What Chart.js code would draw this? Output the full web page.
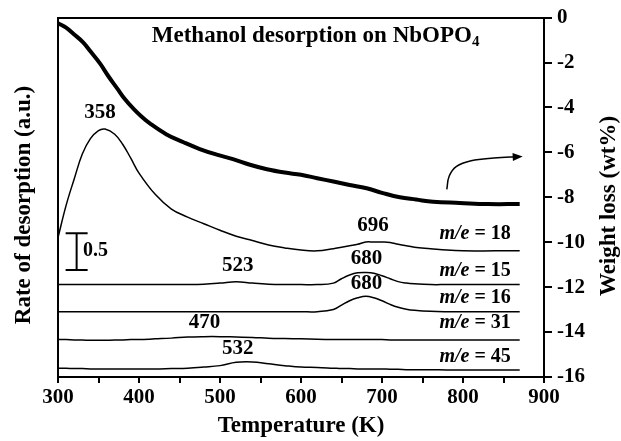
<!DOCTYPE html>
<html>
<head>
<meta charset="utf-8">
<title>Methanol desorption on NbOPO4</title>
<script src="https://cdn.jsdelivr.net/npm/chart.js@4.4.1/dist/chart.umd.min.js"></script>
<style>
  body { margin: 0; background: #fff; }
  #wrap { width: 621px; height: 441px; }
</style>
</head>
<body>
<div id="wrap"><canvas id="mycanvas" width="621" height="441"></canvas></div>
<script>
// weight loss (TGA), right axis
var tgaTemps = [300, 310, 320, 331, 340, 352, 362, 373, 383, 393, 403, 413, 434, 455, 475, 496, 516, 537, 558, 580, 600, 620, 640, 660, 681, 700, 722, 742, 763, 796, 830, 870];
var weightLoss = [-0.25, -0.45, -0.75, -1.1, -1.5, -2.05, -2.6, -3.15, -3.65, -4.05, -4.4, -4.7, -5.2, -5.55, -5.85, -6.1, -6.3, -6.55, -6.75, -6.9, -7.0, -7.15, -7.3, -7.45, -7.6, -7.8, -8.0, -8.1, -8.2, -8.25, -8.3, -8.3];

// mass spec traces (a.u.), left axis, each one shifted up by its offset
var msTemps = [300, 310, 320, 330, 340, 350, 358, 370, 380, 390, 400, 420, 440, 460, 480, 500, 520, 540, 560, 580, 600, 620, 640, 650, 660, 670, 680, 690, 700, 710, 720, 730, 740, 760, 780, 800, 840, 870];
var me18 = [0.18, 0.62, 0.98, 1.32, 1.53, 1.64, 1.66, 1.59, 1.45, 1.26, 1.06, 0.77, 0.57, 0.46, 0.37, 0.28, 0.20, 0.14, 0.08, 0.04, 0.01, 0.00, 0.03, 0.05, 0.07, 0.09, 0.12, 0.12, 0.12, 0.115, 0.09, 0.07, 0.05, 0.03, 0.01, 0, 0, 0];
var me15 = [0, 0, 0, 0, 0, 0, 0, 0, 0, 0, 0, 0, 0, 0, 0.005, 0.02, 0.04, 0.02, 0.005, 0, 0, 0, 0.02, 0.08, 0.13, 0.16, 0.165, 0.155, 0.12, 0.08, 0.04, 0.02, 0.01, 0, 0, 0, 0, 0];
var me16 = [0, 0, 0, 0, 0, 0, 0, 0, 0, 0, 0, 0, 0, 0, 0, 0, 0, 0, 0, 0, 0, 0, 0.03, 0.09, 0.15, 0.19, 0.21, 0.19, 0.15, 0.10, 0.06, 0.035, 0.02, 0.005, 0, 0, 0, 0];
var me31 = [0.01, 0.01, 0.005, 0.005, 0, 0, 0, 0.005, 0.005, 0.01, 0.01, 0.02, 0.03, 0.045, 0.05, 0.05, 0.045, 0.04, 0.03, 0.025, 0.02, 0.015, 0.01, 0.01, 0.01, 0.01, 0.01, 0.01, 0.01, 0.005, 0.005, 0.005, 0.005, 0.005, 0.005, 0.005, 0.005, 0.005];
var me45 = [0.03, 0.03, 0.025, 0.025, 0.02, 0.02, 0.02, 0.02, 0.02, 0.02, 0.02, 0.02, 0.025, 0.03, 0.045, 0.065, 0.11, 0.115, 0.09, 0.065, 0.045, 0.04, 0.03, 0.025, 0.025, 0.02, 0.02, 0.02, 0.02, 0.015, 0.015, 0.01, 0.01, 0.01, 0.005, 0.005, 0.005, 0.005];
var traceNames = ['18', '15', '16', '31', '45'];
var traceOffsets = [1.72, 1.26, 0.89, 0.50, 0.09];
var traces = [me18, me15, me16, me31, me45];

// 0.5 a.u. scale bar
var barTemp = 323;
var barLow = 1.46, barHigh = 1.96;

// arrow pointing to the weight loss axis
var arrowTemps = [780, 783, 792, 810, 838, 870];
var arrowWeight = [-7.65, -7.05, -6.62, -6.37, -6.25, -6.19];

var xTicks = [300, 400, 500, 600, 700, 800, 900];
var peakLabels = ['358', '696', '680', '680', '523', '470', '532'];

var serif = '"Liberation Serif", "Times New Roman", serif';
Chart.defaults.font.family = serif;
Chart.defaults.color = '#000';

function pairs(xs, ys, off) {
	var out = [];
	for (var i = 0; i < xs.length; i++) {
		out.push({ x: xs[i], y: ys[i] + (off || 0) });
	}
	return out;
}

var datasets = [];
for (var i = 0; i < traces.length; i++) {
	datasets.push({
		label: 'm/e = ' + traceNames[i],
		data: pairs(msTemps, traces[i], traceOffsets[i]),
		yAxisID: 'yr',
		borderColor: '#000',
		borderWidth: 1.5,
		pointRadius: 0,
		tension: 0.4
	});
}
datasets.push({
	label: 'Weight loss',
	data: pairs(tgaTemps, weightLoss),
	yAxisID: 'y',
	borderColor: '#000',
	borderWidth: 4,
	pointRadius: 0,
	tension: 0.4
});
datasets.push({
	label: 'arrow',
	data: pairs(arrowTemps, arrowWeight),
	yAxisID: 'y',
	borderColor: '#000',
	borderWidth: 1.5,
	pointRadius: 0,
	tension: 0.4
});
datasets.push({
	label: 'scale bar',
	data: [{ x: barTemp, y: barLow }, { x: barTemp, y: barHigh }],
	yAxisID: 'yr',
	borderColor: '#000',
	borderWidth: 2,
	pointStyle: 'line',
	pointRadius: 11,
	pointBorderWidth: 2,
	pointBorderColor: '#000'
});

// text inside the plot, the arrow head and the vertical axis titles
var extras = {
	id: 'extras',
	afterDatasetsDraw: function(chart) {
		var ctx = chart.ctx;
		var x = chart.scales.x, yr = chart.scales.yr, yw = chart.scales.y;
		ctx.save();
		ctx.fillStyle = '#000';
		ctx.textBaseline = 'middle';

		// title with subscript
		var t1 = 'Methanol desorption on NbOPO';
		ctx.font = 'bold 23px ' + serif;
		var w1 = ctx.measureText(t1).width;
		ctx.font = 'bold 15px ' + serif;
		var w2 = ctx.measureText('4').width;
		var cx = x.getPixelForValue(618), cy = yw.getPixelForValue(-0.84);
		var sx = cx - (w1 + w2) / 2;
		ctx.textAlign = 'left';
		ctx.font = 'bold 23px ' + serif;
		ctx.fillText(t1, sx, cy);
		ctx.font = 'bold 15px ' + serif;
		ctx.fillText('4', sx + w1, cy + 6);

		// peak temperatures
		var spots = [[352, 3.61], [689, 2.06], [681, 1.61], [681, 1.27], [522, 1.52], [481, 0.74], [522, 0.39]];
		ctx.font = 'bold 21px ' + serif;
		ctx.textAlign = 'center';
		for (var i = 0; i < peakLabels.length; i++) {
			ctx.fillText(peakLabels[i], x.getPixelForValue(spots[i][0]), yr.getPixelForValue(spots[i][1]));
		}

		// m/e labels, right aligned
		var labelY = [1.95, 1.45, 1.08, 0.74, 0.27];
		var right = x.getPixelForValue(859);
		ctx.textAlign = 'left';
		for (var j = 0; j < traceNames.length; j++) {
			var rest = ' = ' + traceNames[j];
			ctx.font = 'italic bold 20px ' + serif;
			var wa = ctx.measureText('m/e').width;
			ctx.font = 'bold 20px ' + serif;
			var wb = ctx.measureText(rest).width;
			var py = yr.getPixelForValue(labelY[j]);
			ctx.font = 'italic bold 20px ' + serif;
			ctx.fillText('m/e', right - wa - wb, py);
			ctx.font = 'bold 20px ' + serif;
			ctx.fillText(rest, right - wb, py);
		}

		// scale bar value
		ctx.font = 'bold 20px ' + serif;
		ctx.fillText('0.5', x.getPixelForValue(331), yr.getPixelForValue(1.72));

		// arrow head
		var n = arrowTemps.length;
		var ax = x.getPixelForValue(arrowTemps[n - 1]), ay = yw.getPixelForValue(arrowWeight[n - 1]);
		var bx = x.getPixelForValue(arrowTemps[n - 2]), by = yw.getPixelForValue(arrowWeight[n - 2]);
		var ang = Math.atan2(ay - by, ax - bx);
		ctx.translate(ax, ay);
		ctx.rotate(ang);
		ctx.beginPath();
		ctx.moveTo(3, 0);
		ctx.lineTo(-7, -4);
		ctx.lineTo(-7, 4);
		ctx.closePath();
		ctx.fill();
		ctx.restore();

		// vertical axis titles, both read bottom to top
		ctx.save();
		ctx.fillStyle = '#000';
		ctx.font = 'bold 23px ' + serif;
		ctx.textAlign = 'center';
		ctx.textBaseline = 'middle';
		ctx.translate(24, 205);
		ctx.rotate(-Math.PI / 2);
		ctx.fillText('Rate of desorption (a.u.)', 0, 0);
		ctx.restore();

		ctx.save();
		ctx.fillStyle = '#000';
		ctx.font = 'bold 23px ' + serif;
		ctx.textAlign = 'center';
		ctx.textBaseline = 'middle';
		ctx.translate(609, 206);
		ctx.rotate(-Math.PI / 2);
		ctx.fillText('Weight loss (wt%)', 0, 0);
		ctx.restore();
	}
};

var ctx = document.getElementById('mycanvas');

var chart = new Chart(ctx, {
	type: 'line',
	data: { datasets: datasets },
	options: {
		responsive: false,
		animation: false,
		layout: { padding: 0 },
		plugins: {
			legend: { display: false },
			tooltip: { enabled: false }
		},
		scales: {
			x: {
				type: 'linear',
				position: 'bottom',
				min: 300,
				max: 900,
				afterFit: function(s) { s.height = 64; },
				afterBuildTicks: function(s) {
					var t = [];
					for (var v = 300; v <= 900; v += 50) t.push({ value: v });
					s.ticks = t;
				},
				ticks: {
					padding: 2,
					maxRotation: 0,
					autoSkip: false,
					font: { size: 21, weight: 'bold' },
					callback: function(v) { return xTicks.indexOf(v) >= 0 ? String(v) : ''; }
				},
				grid: { drawOnChartArea: false, drawTicks: true, tickLength: 6, color: '#000', lineWidth: 2 },
				border: { display: true, color: '#000', width: 2 },
				title: {
					display: true,
					text: 'Temperature (K)',
					font: { size: 23, weight: 'bold' },
					padding: { top: 0, bottom: 1 }
				}
			},
			xTop: {
				type: 'linear',
				position: 'top',
				min: 300,
				max: 900,
				afterFit: function(s) { s.height = 15; },
				ticks: { display: false },
				grid: { display: false },
				border: { display: true, color: '#000', width: 2 }
			},
			yr: {
				type: 'linear',
				position: 'left',
				min: 0,
				max: 4.9,
				afterFit: function(s) { s.width = 58; },
				ticks: { display: false },
				grid: { display: false },
				border: { display: true, color: '#000', width: 2 }
			},
			y: {
				type: 'linear',
				position: 'right',
				min: -16,
				max: 0,
				afterFit: function(s) { s.width = 77; },
				ticks: {
					stepSize: 2,
					padding: 5,
					font: { size: 21, weight: 'bold' }
				},
				grid: { drawOnChartArea: false, drawTicks: true, tickLength: 8, color: '#000', lineWidth: 2 },
				border: { display: true, color: '#000', width: 2 }
			}
		}
	},
	plugins: [extras]
});
</script>
</body>
</html>
